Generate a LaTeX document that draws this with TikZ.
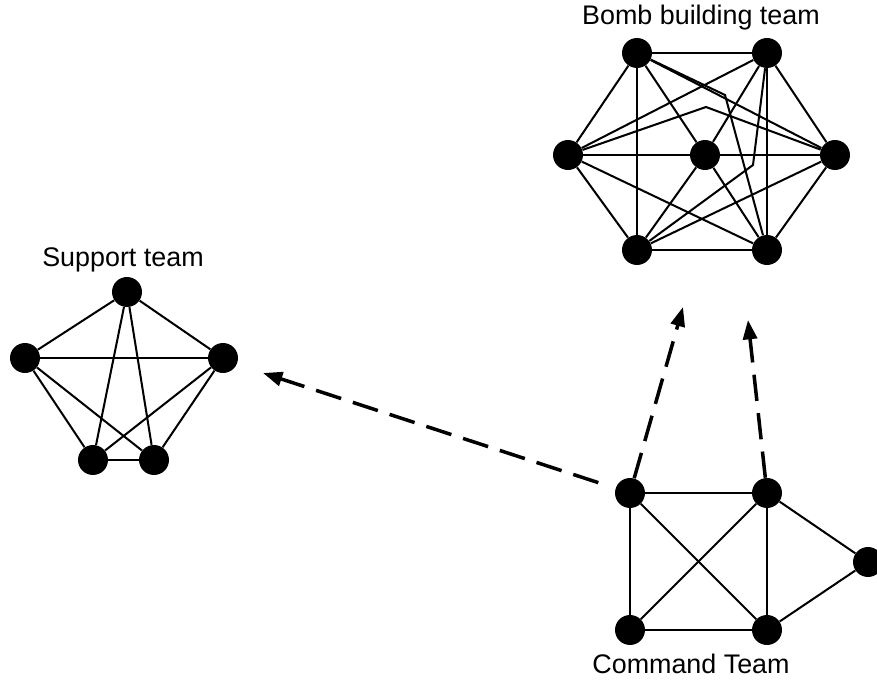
\documentclass[tikz,border=0pt]{standalone}
\usepackage{fontspec}
\setmainfont{Liberation Sans}
\usepackage{tikz}
\usetikzlibrary{positioning,arrows.meta}

\begin{document}
\begin{tikzpicture}[
    x=0.02cm, y=-0.02cm,
    member/.style={circle, fill=black, inner sep=0pt, minimum size=0.6cm},
    tie/.style={line width=1.15pt},
    teamlabel/.style={font=\fontsize{15.3}{18}\selectfont},
    order/.style={line width=2pt, dash pattern=on 15pt off 7pt,
        -{Triangle[length=11pt,width=8pt]}}
]
    \useasboundingbox (0,0) rectangle (877,682);

    % Bomb building team
    \node[teamlabel] (bomblabel) at (701,18) {Bomb building team};
    \node[member] (btl) at (637,53) {};
    \node[member] (btr) at (767,53) {};
    \node[member] (bl) at (568,155) {};
    \node[member] (bc) at (705,155) {};
    \node[member] (br) at (835,155) {};
    \node[member] (bbl) at (637,250) {};
    \node[member] (bbr) at (767,250) {};
    \foreach \a/\b in {btl/btr, btl/bl, btl/bbl, btl/bc, btl/br,
        btr/bl, btr/bc, btr/br, btr/bbr,
        bl/bc, bc/br, bl/bbl, bl/bbr,
        bc/bbl, bc/bbr, br/bbl, br/bbr, bbl/bbr}
        \draw[tie] (\a) -- (\b);
    \coordinate (bendA) at (725,95);
    \coordinate (bendB) at (753,165);
    \coordinate (bendC) at (706,107);
    \draw[tie] (btl) -- (bendA) -- (bbr);
    \draw[tie] (btr) -- (bendB) -- (bbl);
    \draw[tie] (bl) -- (bendC) -- (br);

    % Support team
    \node[teamlabel] (supportlabel) at (123,260) {Support team};
    \node[member] (st) at (127,292) {};
    \node[member] (sl) at (25,358) {};
    \node[member] (sr) at (223,358) {};
    \node[member] (sbl) at (93,460) {};
    \node[member] (sbr) at (154,460) {};
    \foreach \a/\b in {st/sl, st/sr, st/sbl, st/sbr, sl/sr,
        sl/sbl, sl/sbr, sr/sbl, sr/sbr, sbl/sbr}
        \draw[tie] (\a) -- (\b);

    % Command team
    \node[teamlabel] (commandlabel) at (691,664) {Command Team};
    \node[member] (ctl) at (630,493) {};
    \node[member] (ctr) at (767,493) {};
    \node[member] (cfr) at (868,562) {};
    \node[member] (cbl) at (630,630) {};
    \node[member] (cbr) at (767,630) {};
    \foreach \a/\b in {ctl/ctr, ctl/cbl, ctl/cbr, ctr/cbl, ctr/cbr,
        cbl/cbr, ctr/cfr, cbr/cfr}
        \draw[tie] (\a) -- (\b);

    % orders
    \coordinate (tosupport) at (263,373);
    \coordinate (tobombA) at (683,307);
    \coordinate (tobombB) at (748,320);
    \draw[order, shorten <=0.36cm] (ctl) -- (tosupport);
    \draw[order] (ctl) -- (tobombA);
    \draw[order] (ctr) -- (tobombB);
\end{tikzpicture}
\end{document}
